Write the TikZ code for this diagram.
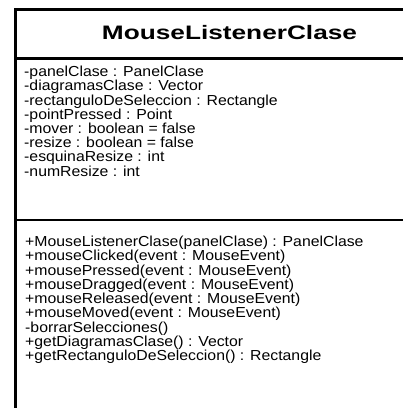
\documentclass[tikz,border=0pt]{standalone}
\usepackage{fontspec}
\setmainfont{Liberation Sans}
\newcommand{\memberwide}[1]{\scalebox{1.09}[1]{#1}}
\begin{document}
\begin{tikzpicture}[x=1pt,y=-1pt,
  frame/.style={line width=2.6pt, line join=miter},
  member/.style={anchor=base west, inner sep=0pt, text height=10pt, text depth=3pt,
    font=\fontsize{14.5}{14.5}\selectfont},
  classname/.style={anchor=base, inner sep=0pt, font=\fontsize{19.5}{19.5}\selectfont\bfseries}]
\useasboundingbox (0,0) rectangle (403,408);

% class box frame (open on the right and at the bottom)
\coordinate (bl) at (15.5,408);
\coordinate (tl) at (15.5,9.5);
\coordinate (tr) at (403,9.5);
\coordinate (s1l) at (15.5,58.5);
\coordinate (s1r) at (403,58.5);
\coordinate (s2l) at (15.5,220);
\coordinate (s2r) at (403,220);
\draw[frame] (bl) -- (tl) -- (tr);
\draw[frame] (s1l) -- (s1r);
\draw[frame] (s2l) -- (s2r);

% class name
\node[classname] (title) at (229.5,39.5) {\scalebox{1.345}[1]{MouseListenerClase}};

% attributes
\foreach \t [count=\i] in {
  -panelClase : PanelClase,
  -diagramasClase : Vector,
  -rectanguloDeSeleccion : Rectangle,
  -pointPressed : Point,
  -mover : boolean = false,
  -resize : boolean = false,
  -esquinaResize : int,
  -numResize : int}
  \node[member] (attr\i) at (24,{76.7+14.2*(\i-1)}) {\memberwide{\t}};

% operations
\foreach \t [count=\i] in {
  +MouseListenerClase(panelClase) : PanelClase,
  +mouseClicked(event : MouseEvent),
  +mousePressed(event : MouseEvent),
  +mouseDragged(event : MouseEvent),
  +mouseReleased(event : MouseEvent),
  +mouseMoved(event : MouseEvent),
  -borrarSelecciones(),
  +getDiagramasClase() : Vector,
  +getRectanguloDeSeleccion() : Rectangle}
  \node[member] (op\i) at (25,{246.7+14.25*(\i-1)}) {\memberwide{\t}};
\end{tikzpicture}
\end{document}
